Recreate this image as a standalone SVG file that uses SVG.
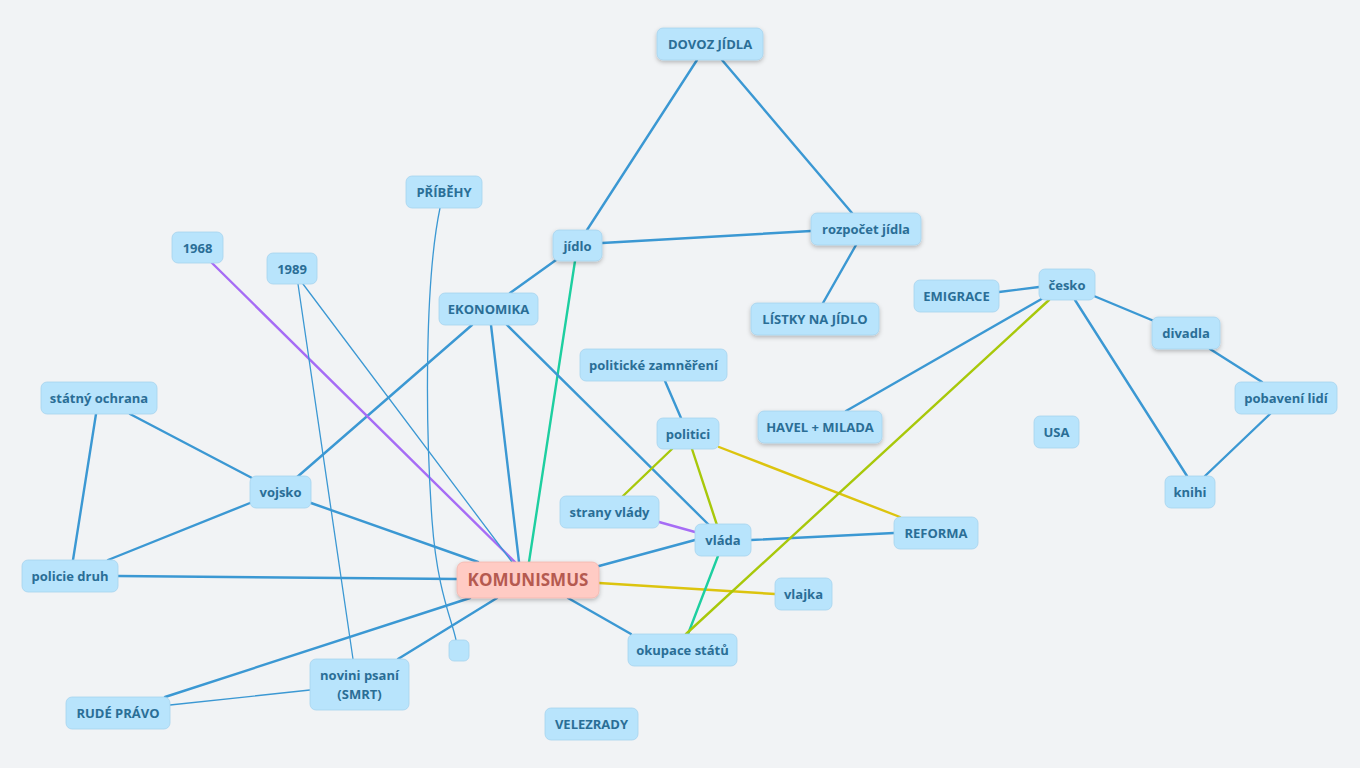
<svg xmlns="http://www.w3.org/2000/svg" width="1360" height="768" viewBox="0 0 1360 768">
<defs>
<filter id="sh" x="-20%" y="-30%" width="140%" height="170%">
<feDropShadow dx="0" dy="2" stdDeviation="2" flood-color="#000" flood-opacity="0.25"/>
</filter>
<style>
.n rect{fill:#b8e4fc;stroke:#a6d3ee;stroke-width:0.8}
.n text{font-family:"Open Sans","Liberation Sans",sans-serif;font-weight:bold;font-size:13px;fill:#2a6e96;text-anchor:middle}
.s rect{filter:url(#sh)}
.root rect{fill:#ffcbc4;stroke:#f2b5ad;filter:url(#sh)}
.root text{fill:#b55a50;font-size:17px;font-weight:bold}
.e path{fill:none;stroke-linecap:round}
.b{stroke:#3b98d3;stroke-width:2.4}
.t{stroke:#3b98d3;stroke-width:1.3}
.p{stroke:#a66cf5;stroke-width:2.4}
.g{stroke:#1dcfa0;stroke-width:2.4}
.y{stroke:#dcc40e;stroke-width:2.4}
.l{stroke:#a8c80a;stroke-width:2.4}
</style>
</defs>
<rect width="1360" height="768" fill="#f1f3f5"/>
<g id="connectors" class="e">
<path class="b" d="M697 60 L587 230"/>
<path class="b" d="M722 60 L852 213"/>
<path class="b" d="M602 243 L811 231"/>
<path class="b" d="M856 245 L823 303"/>
<path class="b" d="M556 260 L510 293"/>
<path class="g" d="M575 261 L529 562"/>
<path class="b" d="M472 325 L296 478"/>
<path class="b" d="M491 325 L519 562"/>
<path class="b" d="M507 325 L709 525"/>
<path class="p" d="M212 263 L515 562"/>
<path class="t" d="M303 284 L512 562"/>
<path class="t" d="M298 284 L353 659"/>
<path class="t" d="M440 208 C425 280 425 420 432 520 C437 590 452 620 456 640"/>
<path class="b" d="M130 414 L252 478"/>
<path class="b" d="M96 414 L73 560"/>
<path class="b" d="M250 503 L108 560"/>
<path class="b" d="M311 503 L478 562"/>
<path class="b" d="M118 576 L457 579"/>
<path class="b" d="M470 598 L165 697"/>
<path class="b" d="M497 598 L398 659"/>
<path class="t" d="M310 690 L170 705"/>
<path class="b" d="M568 598 L631 634"/>
<path class="b" d="M599 566 L695 540"/>
<path class="y" d="M599 583 L775 594"/>
<path class="b" d="M665 381 L681 418"/>
<path class="l" d="M672 449 L623 496"/>
<path class="l" d="M692 449 L717 525"/>
<path class="y" d="M719 447 L900 517"/>
<path class="p" d="M659 522 L695 532"/>
<path class="b" d="M751 540 L894 533"/>
<path class="g" d="M718 556 L688 634"/>
<path class="l" d="M1049 300 L686 634"/>
<path class="b" d="M1045 297 L846 411"/>
<path class="b" d="M999 292 L1039 287"/>
<path class="b" d="M1094 296 L1154 321"/>
<path class="b" d="M1075 300 L1187 476"/>
<path class="b" d="M1210 349 L1262 382"/>
<path class="b" d="M1270 414 L1205 476"/>
</g>
<g id="n-dovoz" class="n s"><rect x="657" y="28" width="106" height="32" rx="6"/><text x="710" y="49">DOVOZ JÍDLA</text></g>
<g id="n-pribehy" class="n"><rect x="406" y="176" width="76" height="32" rx="6"/><text x="444" y="197">PŘÍBĚHY</text></g>
<g id="n-1968" class="n"><rect x="172" y="232" width="51" height="31" rx="6"/><text x="197.5" y="252.5">1968</text></g>
<g id="n-1989" class="n"><rect x="267" y="253" width="50" height="31" rx="6"/><text x="292" y="273.5">1989</text></g>
<g id="n-jidlo" class="n s"><rect x="553" y="230" width="49" height="31" rx="6"/><text x="577.5" y="250.5">jídlo</text></g>
<g id="n-rozpocet" class="n s"><rect x="811" y="213" width="110" height="32" rx="6"/><text x="866" y="234">rozpočet jídla</text></g>
<g id="n-ekonomika" class="n"><rect x="439" y="293" width="99" height="32" rx="6"/><text x="488.5" y="314">EKONOMIKA</text></g>
<g id="n-listky" class="n s"><rect x="751" y="303" width="128" height="32" rx="6"/><text x="815" y="324">LÍSTKY NA JÍDLO</text></g>
<g id="n-emigrace" class="n"><rect x="914" y="280" width="85" height="32" rx="6"/><text x="956.5" y="301">EMIGRACE</text></g>
<g id="n-cesko" class="n"><rect x="1039" y="269" width="56" height="31" rx="6"/><text x="1067" y="289.5">česko</text></g>
<g id="n-divadla" class="n s"><rect x="1152" y="317" width="68" height="32" rx="6"/><text x="1186" y="338">divadla</text></g>
<g id="n-politicke" class="n"><rect x="580" y="349" width="147" height="32" rx="6"/><text x="653.5" y="370">politické zamněření</text></g>
<g id="n-statny" class="n"><rect x="41" y="382" width="116" height="32" rx="6"/><text x="99" y="403">státný ochrana</text></g>
<g id="n-pobaveni" class="n"><rect x="1235" y="382" width="102" height="32" rx="6"/><text x="1286" y="403">pobavení lidí</text></g>
<g id="n-havel" class="n s"><rect x="758" y="411" width="124" height="32" rx="6"/><text x="820" y="432">HAVEL + MILADA</text></g>
<g id="n-usa" class="n"><rect x="1034" y="416" width="45" height="32" rx="6"/><text x="1056.5" y="437">USA</text></g>
<g id="n-politici" class="n"><rect x="657" y="418" width="62" height="31" rx="6"/><text x="688" y="438.5">politici</text></g>
<g id="n-vojsko" class="n"><rect x="250" y="476" width="61" height="32" rx="6"/><text x="280.5" y="497">vojsko</text></g>
<g id="n-knihi" class="n"><rect x="1165" y="476" width="50" height="32" rx="6"/><text x="1190" y="497">knihi</text></g>
<g id="n-strany" class="n"><rect x="560" y="496" width="99" height="32" rx="6"/><text x="609.5" y="517">strany vlády</text></g>
<g id="n-vlada" class="n"><rect x="695" y="524" width="56" height="32" rx="6"/><text x="723" y="545">vláda</text></g>
<g id="n-reforma" class="n"><rect x="894" y="517" width="84" height="32" rx="6"/><text x="936" y="538">REFORMA</text></g>
<g id="n-policie" class="n"><rect x="22" y="560" width="96" height="32" rx="6"/><text x="70" y="581">policie druh</text></g>
<g id="n-komunismus" class="n root"><rect x="457" y="562" width="142" height="36" rx="7"/><text x="528" y="586">KOMUNISMUS</text></g>
<g id="n-vlajka" class="n"><rect x="775" y="578" width="57" height="32" rx="6"/><text x="803.5" y="599">vlajka</text></g>
<g id="n-okupace" class="n"><rect x="628" y="634" width="109" height="32" rx="6"/><text x="682.5" y="655">okupace států</text></g>
<g id="n-empty" class="n"><rect x="449" y="640" width="20" height="21" rx="5"/></g>
<g id="n-novini" class="n"><rect x="310" y="659" width="99" height="51" rx="6"/><text x="359.5" y="680">novini psaní</text><text x="359.5" y="699">(SMRT)</text></g>
<g id="n-rude" class="n"><rect x="66" y="697" width="104" height="32" rx="6"/><text x="118" y="718">RUDÉ PRÁVO</text></g>
<g id="n-velezrady" class="n"><rect x="545" y="708" width="93" height="32" rx="6"/><text x="591.5" y="729">VELEZRADY</text></g>
</svg>
